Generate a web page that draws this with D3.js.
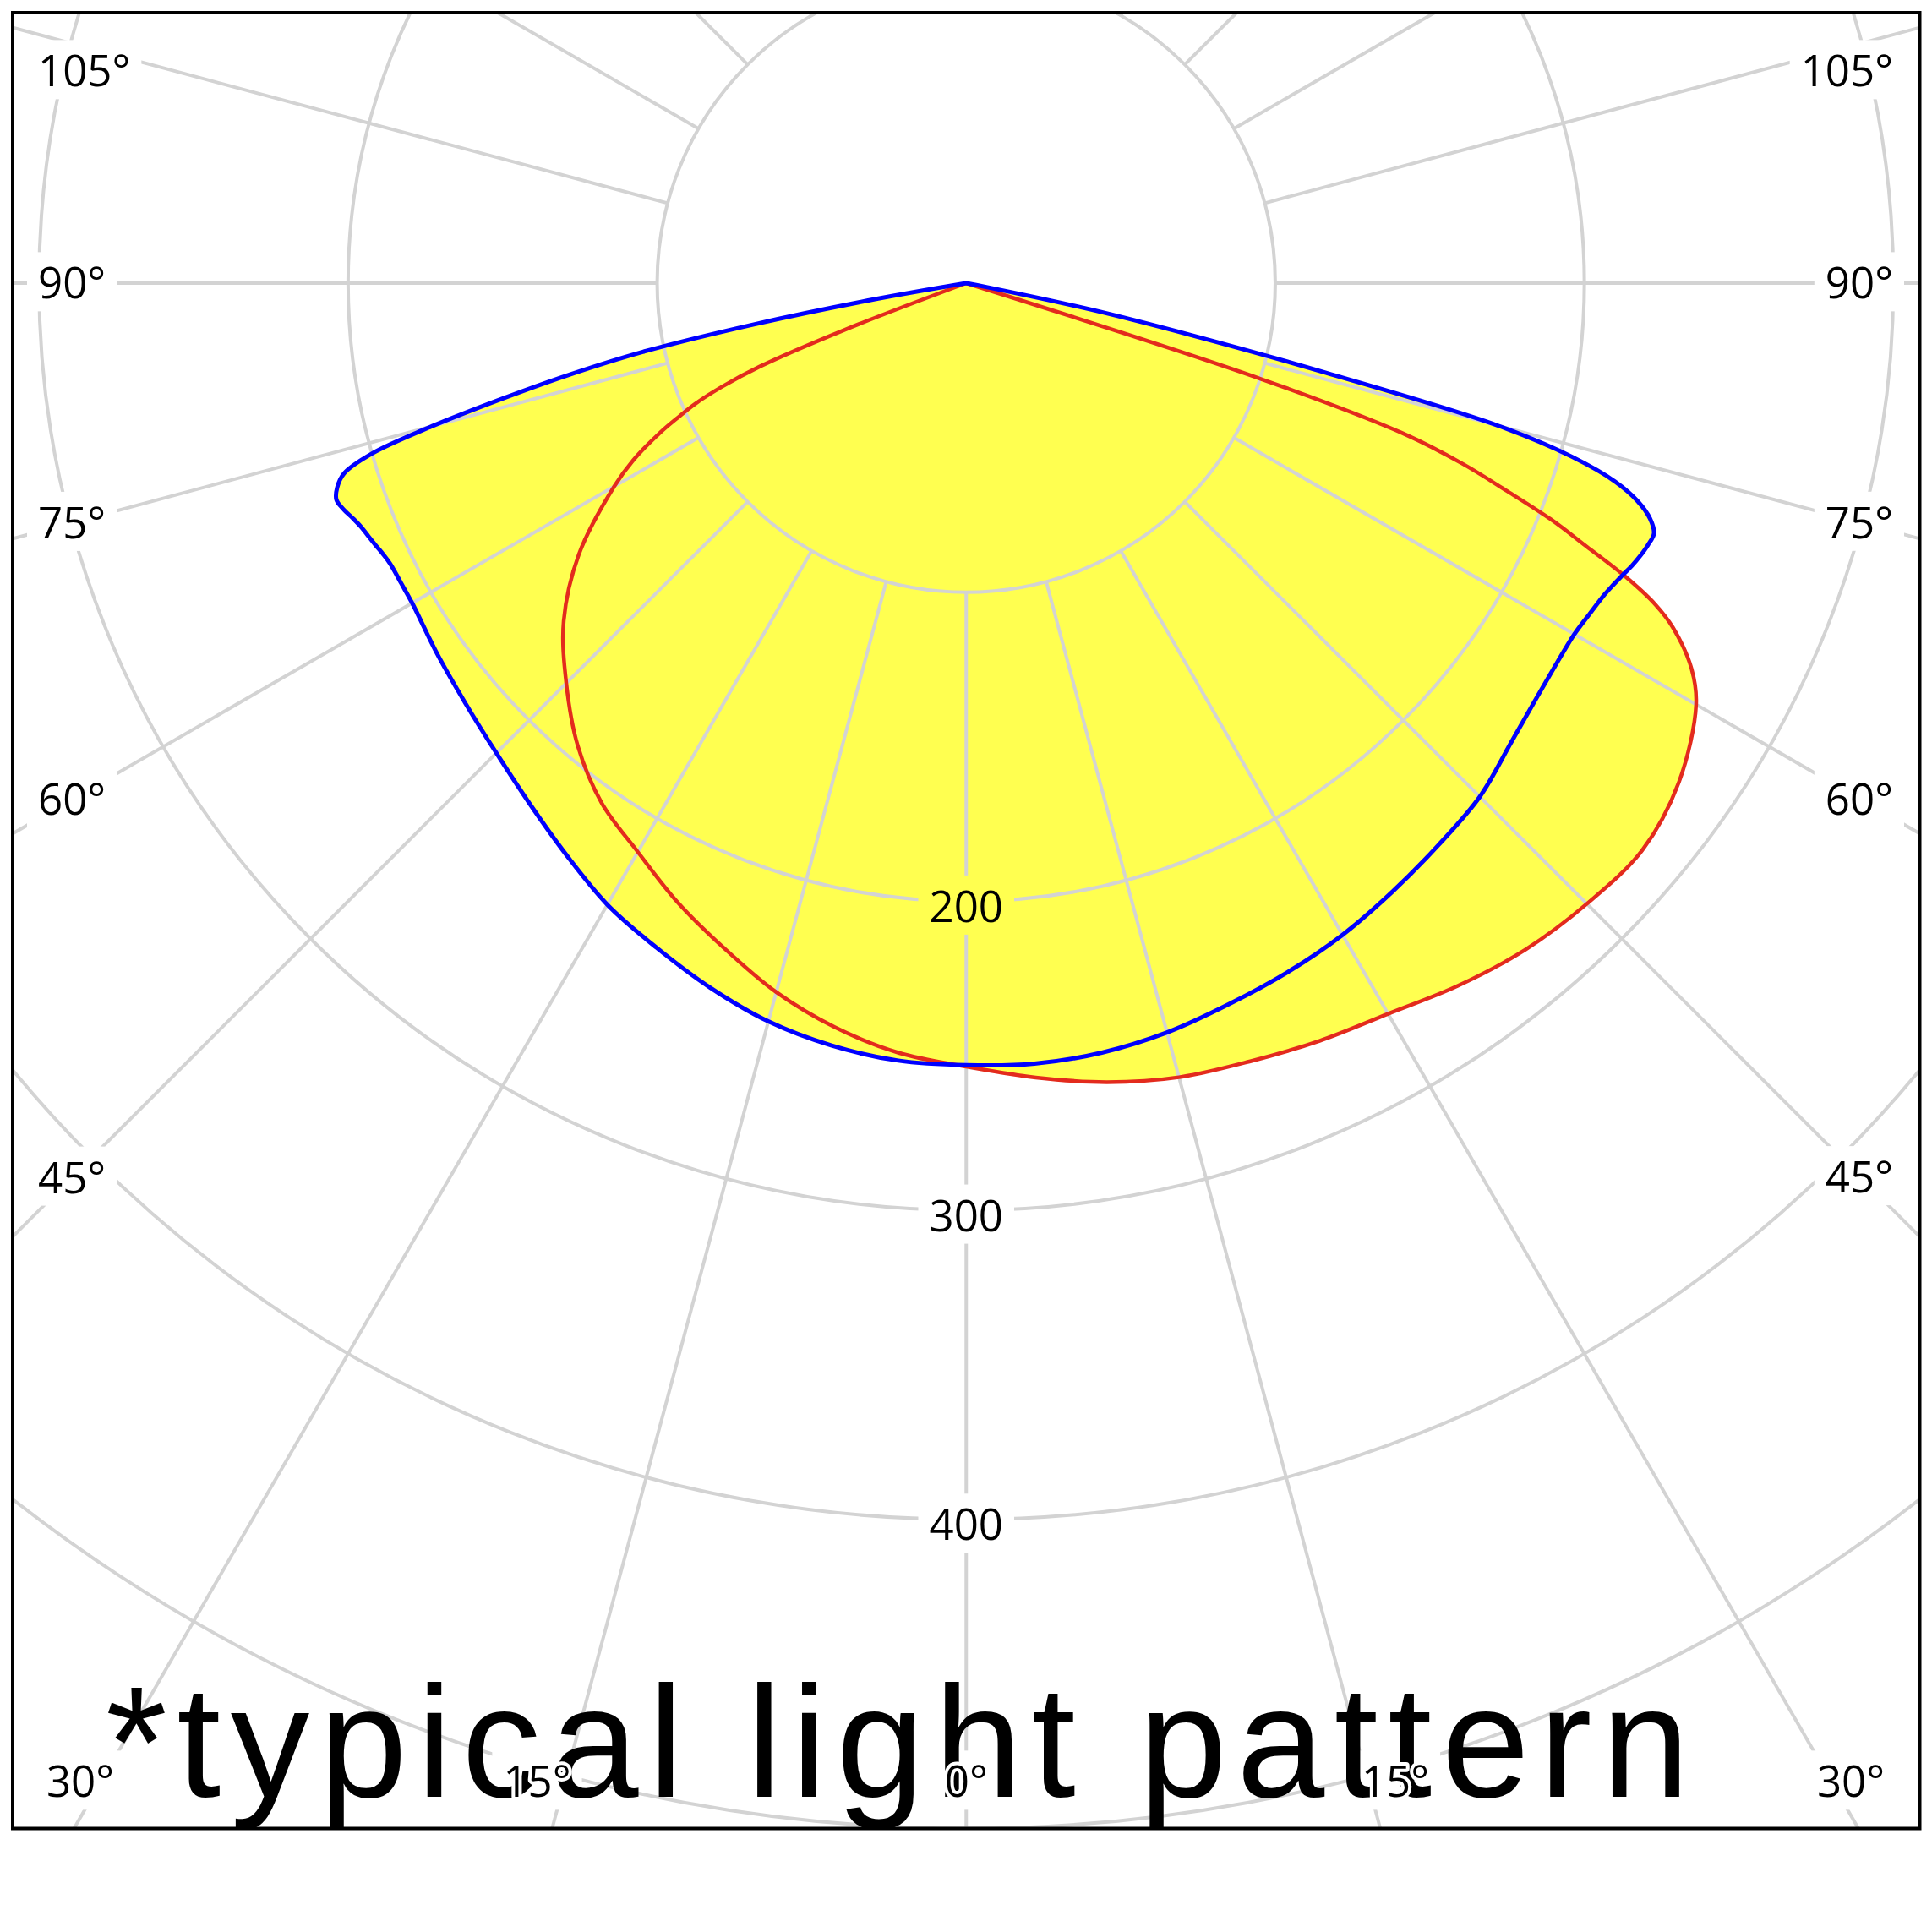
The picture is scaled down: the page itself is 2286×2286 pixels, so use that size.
<!DOCTYPE html>
<html>
<head>
<meta charset="utf-8">
<script src="https://cdn.jsdelivr.net/npm/d3@7"></script>
<style>
  html, body { margin: 0; padding: 0; background: #ffffff; }
  svg { display: block; }
</style>
</head>
<body>
<script>
// ---------------- DATA ----------------
// polar angles (degrees from nadir) at which intensities are given
const angles = [0, 5, 10, 15, 20, 25, 30, 35, 40, 45, 50, 55, 60, 62, 64,
  65, 66, 67, 68, 69, 70, 71, 72, 73, 74, 75, 76, 77, 78, 79, 80, 81, 82, 90];

// blue curve (left half / right half)
const blueLeft = [253, 252.5, 250.5, 247.3, 242.5, 237.2, 232.2, 225.7, 219.8, 215, 211.5, 209, 207, 207, 207.3,
  208, 209, 210, 211, 212.5, 214.3, 215.5, 214, 210.5, 200, 179, 155, 132, 107, 70, 30, 0, 0, 0];
const blueRight = [253, 253.5, 252.8, 251, 248.3, 246, 243.5, 240.4, 237.5, 235, 230.5, 227.8, 227.2, 228.3, 229.8,
  231, 232.4, 234, 235.3, 236.3, 236.8, 234, 228.5, 219.5, 204, 178, 120, 74, 42, 8, 0, 0, 0, 0];

// red curve (left half / right half)
const redLeft = [253.5, 250, 244.5, 237.5, 229, 221, 212.5, 205.5, 195.5, 183, 170, 153, 131.5, 122, 110,
  103, 96, 86, 72, 42, 0, 0, 0, 0, 0, 0, 0, 0, 0, 0, 0, 0, 0, 0];
const redRight = [253.5, 258, 262.5, 266, 268, 270.5, 273, 277.5, 281.5, 284, 285.5, 281.5, 272.7, 265.8, 254.5,
  246, 233.5, 218, 204, 187, 171, 150, 100, 0, 0, 0, 0, 0, 0, 0, 0, 0, 0, 0];

const ringValues = [100, 200, 300, 400, 500, 600];
const ringLabels = [200, 300, 400];
const spokeAngles = [0, 15, 30, 45, 60, 75, 90, 105, 120, 135, 150, 165, 180,
  195, 210, 225, 240, 255, 270, 285, 300, 315, 330, 345];
const angleTicks = [0, 15, 30, 45, 60, 75, 90, 105];
const titleText = "*typical light pattern";

// ---------------- LAYOUT ----------------
const W = 2286, H = 2286;
const frame = { x0: 15, y0: 15, x1: 2271.5, y1: 2163.5 };
const cx = (frame.x0 + frame.x1) / 2, cy = 335;
const r = d3.scaleLinear().domain([0, 100]).range([0, 365.7]);
const toRad = d => d * Math.PI / 180;

const labelFont = "'Open Sans', 'Noto Sans', sans-serif";
const labelSize = 51;
const labelEdge = { left: 45, right: 2240 };
const labelCol = { left: 85, right: 2201 };
const labelRowTop = 84, labelRowBottom = 2108, bottomProbeY = 2230;
const bottomClamp = [95, 2190];

const svg = d3.select("body").append("svg").attr("width", W).attr("height", H);
svg.append("rect").attr("width", W).attr("height", H).attr("fill", "#ffffff");

const defs = svg.append("defs");
defs.append("clipPath").attr("id", "plotClip").append("rect")
  .attr("x", frame.x0).attr("y", frame.y0)
  .attr("width", frame.x1 - frame.x0).attr("height", frame.y1 - frame.y0);
const mask = defs.append("mask").attr("id", "labelMask")
  .attr("maskUnits", "userSpaceOnUse").attr("x", 0).attr("y", 0).attr("width", W).attr("height", H);
mask.append("rect").attr("width", W).attr("height", H).attr("fill", "#fff");

const plot = svg.append("g").attr("clip-path", "url(#plotClip)");

// ---------- curves data ----------
function buildPoints(left, right) {
  const pts = [];
  for (let i = angles.length - 1; i >= 0; i--) pts.push({ a: Math.PI + toRad(angles[i]), v: left[i] });
  // nadir (0°) is shared by both halves: start the right half after it
  for (let i = 1; i < angles.length; i++) pts.push({ a: Math.PI - toRad(angles[i]), v: right[i] });
  // collapse runs of zero intensity (all at the pole) into one point per run
  return pts.filter((p, i) => !(p.v === 0 && i > 0 && pts[i - 1].v === 0));
}
const radial = d3.lineRadial().angle(d => d.a).radius(d => r(d.v))
  .curve(d3.curveCatmullRomClosed.alpha(0.5));
const series = [
  { name: "C0-C180", left: redLeft, right: redRight, color: "#e32b1d", width: 4.5 },
  { name: "C90-C270", left: blueLeft, right: blueRight, color: "#0000ff", width: 5 }
];

// fills
plot.append("g").attr("transform", `translate(${cx},${cy})`)
  .selectAll("path").data(series).join("path")
  .attr("d", d => radial(buildPoints(d.left, d.right)))
  .attr("fill", "#ffff50").attr("stroke", "none");

// grid
const grid = plot.append("g").attr("mask", "url(#labelMask)")
  .append("g").attr("transform", `translate(${cx},${cy})`)
  .attr("stroke", "#d3d3d3").attr("stroke-width", 4).attr("fill", "none");
grid.selectAll("circle").data(ringValues).join("circle").attr("r", d => r(d));
grid.selectAll("line").data(spokeAngles).join("line")
  .attr("x1", d => r(100) * Math.sin(toRad(d)))
  .attr("y1", d => r(100) * Math.cos(toRad(d)))
  .attr("x2", d => r(800) * Math.sin(toRad(d)))
  .attr("y2", d => r(800) * Math.cos(toRad(d)));

// title
plot.append("text")
  .attr("x", 125).attr("y", 2126)
  .attr("font-family", "'Liberation Sans', Arial, sans-serif")
  .attr("font-size", 187)
  .attr("fill", "#000")
  .attr("textLength", 1874)
  .attr("lengthAdjust", "spacing")
  .text(titleText);

// curve strokes
plot.append("g").attr("transform", `translate(${cx},${cy})`)
  .selectAll("path").data(series).join("path")
  .attr("d", d => radial(buildPoints(d.left, d.right)))
  .attr("fill", "none")
  .attr("stroke", d => d.color)
  .attr("stroke-width", d => d.width)
  .attr("stroke-linejoin", "round");

// angle labels
const angleLabelData = [];
angleTicks.forEach(a => {
  const sides = a === 0 ? [1] : [-1, 1];
  sides.forEach(s => {
    const dx = s * Math.sin(toRad(a)), dy = Math.cos(toRad(a));
    let ySide = Infinity;
    if (Math.abs(dx) > 1e-9) {
      const t = ((s < 0 ? labelCol.left : labelCol.right) - cx) / dx;
      ySide = cy + t * dy;
    }
    if (ySide <= labelRowBottom) {
      angleLabelData.push({ text: a + "°", x: s < 0 ? labelEdge.left : labelEdge.right,
        y: Math.max(labelRowTop, ySide), anchor: s < 0 ? "start" : "end" });
    } else {
      const t = (bottomProbeY - cy) / dy;
      const x = Math.min(bottomClamp[1], Math.max(bottomClamp[0], cx + t * dx));
      angleLabelData.push({ text: a + "°", x: x, y: labelRowBottom, anchor: "middle" });
    }
  });
});

const labels = svg.append("g").attr("clip-path", "url(#plotClip)");
const angleLabels = labels.selectAll("text.ang").data(angleLabelData).join("text")
  .attr("class", "ang")
  .attr("x", d => d.x).attr("y", d => d.y).attr("dy", "0.36em")
  .attr("text-anchor", d => d.anchor)
  .attr("font-family", labelFont).attr("font-size", labelSize)
  .attr("fill", "#000")
  .attr("stroke", "#fff").attr("stroke-width", 8).attr("stroke-linejoin", "round")
  .attr("paint-order", "stroke")
  .text(d => d.text);

const radLabels = labels.selectAll("text.rad").data(ringLabels).join("text")
  .attr("class", "rad")
  .attr("x", cx).attr("y", d => cy + r(d)).attr("dy", "0.48em")
  .attr("text-anchor", "middle")
  .attr("font-family", labelFont).attr("font-size", labelSize)
  .attr("fill", "#000")
  .text(d => d);

// gaps in grid around labels
[angleLabels, radLabels].forEach(sel => {
  sel.each(function () {
    const b = this.getBBox();
    mask.append("rect")
      .attr("x", b.x - 13).attr("y", b.y)
      .attr("width", b.width + 26).attr("height", b.height)
      .attr("fill", "#000");
  });
});

// frame
svg.append("rect")
  .attr("x", frame.x0).attr("y", frame.y0)
  .attr("width", frame.x1 - frame.x0).attr("height", frame.y1 - frame.y0)
  .attr("fill", "none").attr("stroke", "#000").attr("stroke-width", 4);
</script>
</body>
</html>
